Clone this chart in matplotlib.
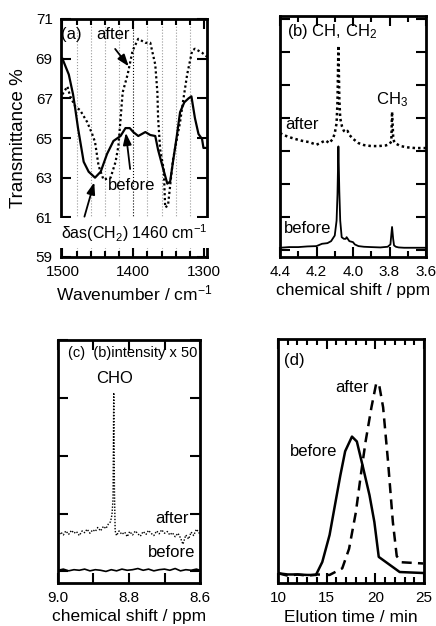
import matplotlib
matplotlib.use("Agg")
import matplotlib.pyplot as plt
from matplotlib.ticker import MultipleLocator, FormatStrFormatter, NullFormatter

plt.rcParams['font.family'] = ['Liberation Sans', 'DejaVu Sans']
plt.rcParams['mathtext.fontset'] = 'custom'
plt.rcParams['mathtext.rm'] = 'Liberation Sans'
plt.rcParams['mathtext.it'] = 'Liberation Sans'

# -----------------------------
# --- (a) IR spectra
# -----------------------------
ir_before_wn = [1500, 1491, 1485, 1482, 1478, 1470, 1463, 1454, 1446, 1437, 1428, 1418,
                1411, 1405, 1400, 1393, 1383, 1376, 1369, 1365, 1359, 1352, 1348, 1344,
                1339, 1334, 1328, 1322, 1318, 1313, 1308, 1303, 1301, 1296]
ir_before_T = [69.0, 68.2, 67.2, 66.5, 65.5, 63.8, 63.3, 63.0, 63.3, 64.2, 64.85, 65.1,
               65.5, 65.5, 65.3, 65.1, 65.3, 65.15, 65.1, 64.4, 63.6, 62.7, 62.8, 63.8,
               65.0, 66.3, 66.8, 67.0, 67.1, 66.0, 65.2, 64.95, 64.5, 64.5]
ir_yticks = [59, 61, 63, 65, 67, 69, 71]

ir_after_wn = [1500, 1493, 1489, 1482, 1475, 1465, 1458, 1454, 1449, 1442, 1432, 1425,
               1421, 1415, 1408, 1401, 1393, 1383, 1376, 1369, 1366, 1365, 1362, 1357,
               1355, 1351, 1348, 1344, 1334, 1330, 1324, 1317, 1313, 1303, 1296]
ir_after_T = [67.2, 67.6, 67.1, 66.6, 66.4, 65.8, 65.2, 64.8, 63.6, 62.9, 63.0, 63.8,
              64.6, 67.3, 68.2, 69.4, 70.0, 69.8, 69.8, 68.7, 67.3, 66.0, 64.4, 63.4,
              61.5, 61.6, 62.6, 63.9, 65.8, 66.8, 68.2, 69.4, 69.5, 69.3, 69.1]

# -----------------------------
# --- (b) 1H NMR
# -----------------------------
nmr_before_ppm = [4.40, 4.35, 4.30, 4.25, 4.20, 4.17, 4.14, 4.12, 4.10, 4.09, 4.085,
                  4.08, 4.075, 4.07, 4.062, 4.05, 4.04, 4.035, 4.02, 4.00, 3.99, 3.97,
                  3.94, 3.90, 3.85, 3.81, 3.795, 3.786, 3.78, 3.775, 3.765, 3.75, 3.72,
                  3.68, 3.64, 3.60]
nmr_before_I = [0.08, 0.10, 0.10, 0.12, 0.13, 0.20, 0.22, 0.28, 0.45, 0.9, 1.7,
                3.15, 1.8, 0.9, 0.40, 0.35, 0.35, 0.40, 0.28, 0.25, 0.18, 0.13,
                0.11, 0.10, 0.09, 0.11, 0.18, 0.71, 0.35, 0.15, 0.11, 0.09, 0.08,
                0.08, 0.08, 0.08]

nmr_after_ppm = [4.40, 4.36, 4.32, 4.28, 4.24, 4.20, 4.17, 4.15, 4.13, 4.11, 4.10,
                 4.09, 4.085, 4.08, 4.075, 4.07, 4.06, 4.05, 4.04, 4.03, 4.02, 4.00,
                 3.97, 3.94, 3.90, 3.86, 3.82, 3.80, 3.79, 3.786, 3.78, 3.775, 3.77,
                 3.76, 3.74, 3.70, 3.66, 3.62, 3.60]
nmr_after_I = [3.55, 3.45, 3.38, 3.32, 3.28, 3.20, 3.28, 3.33, 3.25, 3.38, 3.55,
               3.85, 4.5, 6.2, 4.6, 4.0, 3.75, 3.62, 3.58, 3.62, 3.50, 3.38,
               3.25, 3.19, 3.16, 3.16, 3.18, 3.22, 3.30, 4.2, 3.45, 3.30, 3.25,
               3.22, 3.16, 3.12, 3.10, 3.10, 3.10]

# -----------------------------
# --- (c) NMR x50
# -----------------------------
cho_after_ppm = [9.000, 8.992, 8.985, 8.978, 8.970, 8.962, 8.955, 8.948, 8.940, 8.932,
                 8.925, 8.918, 8.910, 8.902, 8.895, 8.888, 8.880, 8.872, 8.865, 8.858,
                 8.852, 8.848, 8.845, 8.843, 8.841, 8.839, 8.835, 8.828, 8.820, 8.812,
                 8.805, 8.798, 8.790, 8.782, 8.775, 8.768, 8.760, 8.752, 8.745, 8.738,
                 8.730, 8.722, 8.715, 8.708, 8.700, 8.692, 8.685, 8.678, 8.670, 8.662,
                 8.655, 8.648, 8.640, 8.632, 8.625, 8.618, 8.610, 8.602, 8.600]
cho_after_I = [0.60, 0.68, 0.63, 0.70, 0.64, 0.71, 0.66, 0.69, 0.62, 0.70,
               0.67, 0.73, 0.66, 0.72, 0.69, 0.76, 0.70, 0.78, 0.74, 0.82,
               0.86, 0.98, 1.25, 3.09, 1.40, 0.70, 0.62, 0.70, 0.64, 0.68,
               0.60, 0.69, 0.63, 0.70, 0.65, 0.61, 0.69, 0.64, 0.71, 0.66,
               0.62, 0.70, 0.65, 0.72, 0.66, 0.69, 0.63, 0.67, 0.60, 0.66,
               0.58, 0.47, 0.63, 0.56, 0.68, 0.62, 0.73, 0.66, 0.70]

cho_before_ppm = [9.000, 8.985, 8.970, 8.955, 8.940, 8.925, 8.910, 8.895, 8.880, 8.865,
                  8.850, 8.835, 8.820, 8.805, 8.790, 8.775, 8.760, 8.745, 8.730, 8.715,
                  8.700, 8.685, 8.670, 8.655, 8.640, 8.625, 8.610, 8.600]
cho_before_I = [0.02, 0.04, 0.01, 0.03, 0.02, 0.04, 0.01, 0.03, 0.02, 0.00,
                0.03, 0.01, 0.04, 0.02, 0.03, 0.05, 0.02, 0.04, 0.01, 0.03,
                0.04, 0.02, 0.05, 0.01, 0.03, 0.02, 0.04, 0.02]

# -----------------------------
# --- (d) GPC
# -----------------------------
gpc_before_t = [10.0, 11.0, 12.0, 13.0, 13.9, 14.55, 15.3, 15.9, 16.4, 16.9, 17.6,
                18.1, 18.7, 19.4, 19.9, 20.35, 22.5, 24.9]
gpc_before_I = [0.04, 0.035, 0.035, 0.033, 0.033, 0.086, 0.197, 0.33, 0.44, 0.54, 0.60,
                0.58, 0.48, 0.36, 0.25, 0.107, 0.045, 0.041]

gpc_after_t = [10.0, 11.0, 12.0, 13.0, 14.0, 15.3, 16.6, 17.3, 18.0, 18.5, 19.0,
               19.6, 20.1, 20.4, 20.8, 21.3, 21.8, 22.2, 22.7, 24.9]
gpc_after_I = [0.04, 0.03, 0.035, 0.03, 0.035, 0.033, 0.06, 0.14, 0.29, 0.44, 0.58,
               0.72, 0.82, 0.81, 0.72, 0.50, 0.25, 0.11, 0.085, 0.08]

DOT = (0, (1, 1.2))
FS = 11      # tick labels
FL = 12.5    # axis labels
FT = 12      # annotations


def style_axes(ax):
    for s in ax.spines.values():
        s.set_linewidth(2)
    ax.tick_params(which='both', direction='in', top=True, right=True, width=1.5,
                   labelsize=FS, pad=6)
    ax.tick_params(which='major', length=7)
    ax.tick_params(which='minor', length=4)


fig = plt.figure(figsize=(4.36, 6.26), dpi=100)

# (a)
ax = fig.add_axes([61/436, 1-257/626, 146/436, 238/626])
ax.plot(ir_before_wn, ir_before_T, color='black', lw=1.6)
ax.plot(ir_after_wn, ir_after_T, color='black', lw=1.6, linestyle=DOT)
ax.set_xlim(1502, 1296)
ax.set_ylim(59, 71)
ax.xaxis.set_major_locator(MultipleLocator(100))
ax.xaxis.set_minor_locator(MultipleLocator(20))
ax.set_yticks(ir_yticks)
for wn in range(1320, 1500, 20):
    ax.axvline(wn, color='black' if wn == 1400 else '#999999', lw=0.8, ls=':', zorder=0)
style_axes(ax)
ax.set_ylabel("Transmittance %", fontsize=13.5, labelpad=6)
ax.set_xlabel("Wavenumber / cm$^{-1}$", fontsize=FL, labelpad=3)
ax.text(1488, 70.2, "(a)", fontsize=FT, ha='center', va='center')
ax.text(1428, 70.2, "after", fontsize=FT, ha='center', va='center')
ax.text(1403, 62.6, "before", fontsize=FT, ha='center', va='center')
ax.text(1398, 60.2, "δas(CH$_2$) 1460 cm$^{-1}$", fontsize=11.5, ha='center', va='center',
        bbox=dict(facecolor='white', edgecolor='none', pad=3))
arr = dict(arrowstyle='-|>,head_length=0.7,head_width=0.25', color='black', lw=1.3)
ax.annotate("", xy=(1404, 68.5), xytext=(1428, 69.6), arrowprops=arr)
ax.annotate("", xy=(1411, 65.4), xytext=(1404, 63.3), arrowprops=arr)
ax.annotate("", xy=(1454, 62.9), xytext=(1470, 60.9), arrowprops=arr)

# (b)
ax = fig.add_axes([280/436, 1-257/626, 146/436, 241/626])
ax.plot(nmr_before_ppm, nmr_before_I, color='black', lw=1.3)
ax.plot(nmr_after_ppm, nmr_after_I, color='black', lw=1.8, linestyle=DOT)
ax.set_xlim(4.4, 3.6)
ax.set_ylim(-0.2, 7.1)
ax.xaxis.set_major_locator(MultipleLocator(0.2))
ax.xaxis.set_minor_locator(MultipleLocator(0.1))
ax.xaxis.set_major_formatter(FormatStrFormatter('%.1f'))
ax.yaxis.set_major_locator(MultipleLocator(1))
ax.yaxis.set_major_formatter(NullFormatter())
style_axes(ax)
ax.set_xlabel("chemical shift / ppm", fontsize=FL, labelpad=3)
ax.text(4.36, 6.62, "(b) CH, CH$_2$", fontsize=FT, ha='left', va='center')
ax.text(3.786, 4.56, "CH$_3$", fontsize=FT, ha='center', va='center')
ax.text(4.28, 3.8, "after", fontsize=FT, ha='center', va='center')
ax.text(4.25, 0.67, "before", fontsize=FT, ha='center', va='center')

# (c)
ax = fig.add_axes([58/436, 1-583/626, 142/436, 243/626])
ax.plot(cho_before_ppm, cho_before_I, color='black', lw=1.2)
ax.plot(cho_after_ppm, cho_after_I, color='black', lw=1.0, linestyle=DOT)
ax.set_xlim(9.0, 8.6)
ax.set_ylim(-0.2, 4.0)
ax.xaxis.set_major_locator(MultipleLocator(0.2))
ax.xaxis.set_minor_locator(MultipleLocator(0.1))
ax.xaxis.set_major_formatter(FormatStrFormatter('%.1f'))
ax.yaxis.set_major_locator(MultipleLocator(1))
ax.yaxis.set_major_formatter(NullFormatter())
style_axes(ax)
ax.tick_params(axis='x', which='minor', length=7)
ax.set_xlabel("chemical shift / ppm", fontsize=FL, labelpad=3)
ax.text(8.79, 3.77, "(c)  (b)intensity x 50", fontsize=10.5, ha='center', va='center')
ax.text(8.842, 3.33, "CHO", fontsize=FT, ha='center', va='center')
ax.text(8.68, 0.92, "after", fontsize=FT, ha='center', va='center')
ax.text(8.68, 0.32, "before", fontsize=FT, ha='center', va='center')

# (d)
ax = fig.add_axes([278/436, 1-583/626, 146/436, 244/626])
ax.plot(gpc_before_t, gpc_before_I, color='black', lw=1.8)
ax.plot(gpc_after_t, gpc_after_I, color='black', lw=1.8, linestyle=(0, (4, 2.5)))
ax.set_xlim(10, 25)
ax.set_ylim(0, 1)
ax.xaxis.set_major_locator(MultipleLocator(5))
ax.xaxis.set_minor_locator(MultipleLocator(1))
ax.set_yticks([])
style_axes(ax)
ax.set_xlabel("Elution time / min", fontsize=FL, labelpad=3)
ax.text(11.65, 0.91, "(d)", fontsize=FT, ha='center', va='center')
ax.text(17.65, 0.80, "after", fontsize=FT, ha='center', va='center')
ax.text(13.7, 0.54, "before", fontsize=FT, ha='center', va='center')

fig.savefig("out.png", dpi=100)
